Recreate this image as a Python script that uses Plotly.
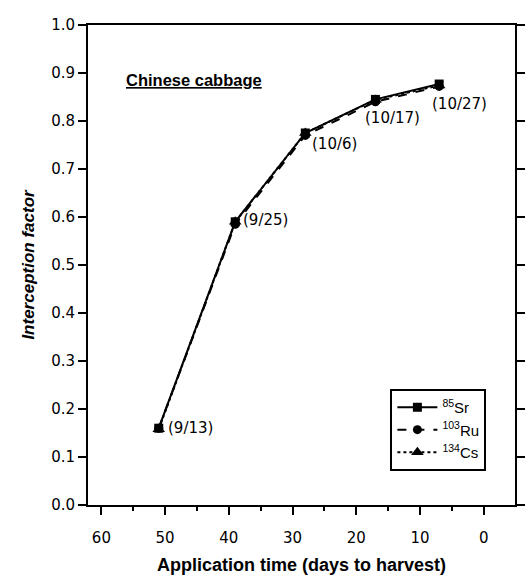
import plotly.graph_objects as go

days = [51, 39, 28, 17, 7]
dates = ["(9/13)", "(9/25)", "(10/6)", "(10/17)", "(10/27)"]
sr85 = [0.16, 0.59, 0.775, 0.845, 0.877]
ru103 = [0.16, 0.585, 0.77, 0.84, 0.872]
cs134 = [0.158, 0.59, 0.775, 0.844, 0.874]

series = [
    ("<sup>85</sup>Sr", sr85, "solid", "square", 9),
    ("<sup>103</sup>Ru", ru103, "dash", "circle", 9),
    ("<sup>134</sup>Cs", cs134, "dot", "triangle-up", 11),
]

fig = go.Figure()
for name, vals, dash, sym, sz in series:
    fig.add_trace(go.Scatter(
        x=days, y=vals, name=name, mode="lines+markers",
        line=dict(color="black", width=2, dash=dash),
        marker=dict(symbol=sym, size=sz, color="black"),
    ))

label_font = dict(family="DejaVu Sans", size=15, color="black")
label_offsets = [(7, 0), (6, -2), (5, 11), (-12, 19), (-9, 20)]
for d, v, t, (ax, ay) in zip(days, sr85, dates, label_offsets):
    fig.add_annotation(x=d, y=v, text=t, showarrow=False, xanchor="left", yanchor="middle",
                       xshift=ax, yshift=-ay, font=label_font)

fig.add_annotation(xref="paper", yref="paper", x=0.084, y=0.885, xanchor="left", yanchor="middle",
                   text="<b><span style='text-decoration:underline'>Chinese cabbage</span></b>",
                   showarrow=False, font=dict(family="Liberation Sans, Arial", size=16.5, color="black"))

tick_font = dict(family="DejaVu Sans", size=15, color="black")
fig.update_layout(
    width=532, height=579,
    margin=dict(l=88, r=7, t=25, b=74),
    paper_bgcolor="white", plot_bgcolor="white",
    showlegend=True,
    legend=dict(x=0.933, y=0.071, xanchor="right", yanchor="bottom",
                bordercolor="black", borderwidth=2, bgcolor="white",
                font=dict(family="Liberation Sans, Arial", size=15, color="black"),
                itemwidth=40, tracegroupgap=0),
    font=tick_font,
)
fig.update_xaxes(range=[62.1, -4.9], tickvals=[60, 50, 40, 30, 20, 10, 0],
                 ticks="outside", ticklen=8, tickwidth=2, tickcolor="black",
                 ticklabelstandoff=10,
                 minor=dict(tickvals=[55, 45, 35, 25, 15, 5], ticks="outside", ticklen=4, tickwidth=2, tickcolor="black"),
                 showline=True, linewidth=2, linecolor="black", mirror=True,
                 showgrid=False, zeroline=False, tickfont=tick_font,
                 title=dict(text="<b>Application time (days to harvest)</b>",
                            font=dict(family="Liberation Sans, Arial", size=18, color="black"), standoff=12))
fig.update_yaxes(range=[0, 1.0], dtick=0.1, tickformat=".1f",
                 ticks="outside", ticklen=8, tickwidth=2, tickcolor="black",
                 showline=True, linewidth=2, linecolor="black", mirror="ticks",
                 showgrid=False, zeroline=False, tickfont=tick_font,
                 title=dict(text="<b><i>Interception factor</i></b>",
                            font=dict(family="Liberation Sans, Arial", size=17, color="black"), standoff=12))

fig.write_html("out.html")
